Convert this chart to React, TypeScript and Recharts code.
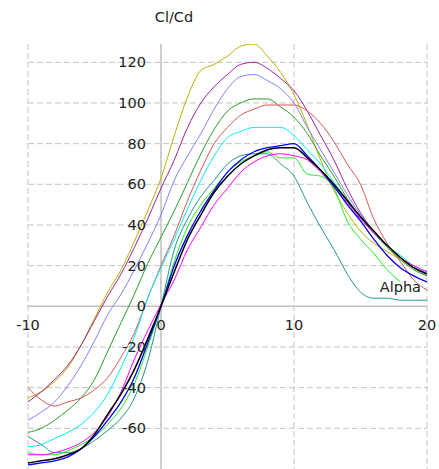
import { LineChart, Line, XAxis, YAxis, CartesianGrid, ReferenceLine, ReferenceDot } from 'recharts';

// Cl/Cd against angle of attack, one curve per airfoil run
const alpha = [-10, -9, -8, -7, -6, -5, -4, -3, -2, -1, 0, 1, 2, 3, 4, 5, 6, 7, 8, 9, 10, 11, 12, 13, 14, 15, 16, 17, 18, 19, 20];

const olive = [-45, -42, -37, -30, -19, -6, 7, 18, 32, 47, 63, 84, 103, 116, 119, 123, 128, 129, 123, 115, 104, 89, 72, 57, 46, 37, 31, 27, 23, 19, 16];
const purple = [-47, -42, -36, -29, -19, -7, 5, 16, 29, 43, 58, 72, 88, 100, 108, 114, 119, 120, 117, 112, 106, 96, 84, 72, 58, 46, 37, 30, 24, 19, 16];
const lavender = [-56, -52, -47, -39, -29, -17, -4, 6, 18, 31, 45, 62, 74, 85, 97, 107, 113, 114, 111, 107, 100, 88, 77, 66, 55, 45, 37, 30, 24, 19, 15];
const green = [-62, -60, -56, -51, -45, -36, -22, -8, 6, 21, 34, 47, 61, 75, 87, 96, 100, 102, 102, 98, 93, 85, 74, 64, 53, 44, 36, 29, 23, 18, 15];
const red = [-40, -46, -49, -47, -45, -41, -35, -25, -13, 4, 20, 35, 52, 67, 80, 88, 94, 97, 99, 99, 99, 96, 90, 81, 70, 60, 43, 31, 22, 13, 8];
const cyan = [-69, -68, -65, -62, -58, -52, -43, -30, -15, 4, 19, 33, 48, 62, 74, 83, 86, 88, 88, 88, 84, 77, 70, 61, 52, 44, 37, 30, 25, 20, 17];
const teal = [-64, -68, -72, -72, -70, -66, -61, -55, -45, -27, 0, 28, 43, 54, 62, 70, 74, 75, 75, 70, 64, 51, 39, 28, 16, 7, 4, 4, 3, 3, 3];
const lime = [-72, -73, -73, -71, -68, -64, -58, -50, -38, -20, 0, 22, 39, 50, 58, 66, 71, 74, 76, 73, 73, 65, 64, 58, 42, 33, 26, 18, 12, null, null];
const magenta = [-73, -73, -72, -70, -67, -62, -54, -42, -26, -12, 1, 13, 28, 39, 50, 58, 66, 71, 74, 75, 74, 72, 66, 59, 51, 43, 36, 30, 24, 20, 17];
const blue = [-78, -77, -76, -74, -70, -64, -56, -47, -35, -18, 0, 20, 35, 47, 57, 66, 72, 76, 78, 79, 80, 74, 67, 59, 50, 42, 33, 25, 19, 15, 12];
const black = [-77, -76, -75, -73, -70, -63, -53, -43, -31, -16, 0, 17, 33, 45, 56, 64, 70, 74, 77, 78, 78, 73, 67, 60, 52, 44, 37, 30, 24, 19, 16];

const xTicks = [-10, 0, 10, 20];
const yTicks = [-60, -40, -20, 0, 20, 40, 60, 80, 100, 120];

const series = [
  { key: 'olive', values: olive, color: '#b8b000', width: 1 },
  { key: 'purple', values: purple, color: '#a0209f', width: 1 },
  { key: 'lavender', values: lavender, color: '#8080ff', width: 1 },
  { key: 'green', values: green, color: '#28a028', width: 1 },
  { key: 'red', values: red, color: '#d85555', width: 1 },
  { key: 'cyan', values: cyan, color: '#00f0f0', width: 1 },
  { key: 'teal', values: teal, color: '#209595', width: 1 },
  { key: 'lime', values: lime, color: '#20f020', width: 1 },
  { key: 'magenta', values: magenta, color: '#ff00ff', width: 1 },
  { key: 'blue', values: blue, color: '#0000ff', width: 1.3 },
  { key: 'black', values: black, color: '#000000', width: 1.5 },
];

const data = alpha.map((a, i) => {
  const row: Record<string, number | null> = { alpha: a };
  series.forEach(s => { row[s.key] = s.values[i]; });
  return row;
});

const font = { fontFamily: 'DejaVu Sans', fontSize: 14.5, fill: '#222' };

// text placed relative to a reference point
const textAt = (text: string, dx: number, dy: number, anchor: string) => (props: any) => {
  const { x, y } = props.viewBox;
  return (
    <text x={x + dx} y={y + dy} textAnchor={anchor} dominantBaseline="central" {...font}>
      {text}
    </text>
  );
};

export default function App() {
  return (
    <div style={{ position: 'absolute', left: 0, top: 0, width: 439, height: 469, background: '#fff' }}>
      <LineChart width={439} height={469} data={data} margin={{ top: 44, right: 12, left: 28, bottom: 0 }}>
        <XAxis dataKey="alpha" type="number" domain={[-10, 20]} ticks={xTicks} allowDataOverflow hide />
        <YAxis type="number" domain={[-80, 129]} ticks={yTicks} allowDataOverflow hide />
        <CartesianGrid stroke="#c4c4c4" strokeDasharray="6 3" syncWithTicks />
        <ReferenceLine x={0} stroke="#c4c4c4" strokeWidth={1.5} />
        <ReferenceLine y={0} stroke="#c4c4c4" strokeWidth={1.5} />
        {series.map(s => (
          <Line
            key={s.key}
            dataKey={s.key}
            stroke={s.color}
            strokeWidth={s.width}
            dot={false}
            type="monotone"
            connectNulls={false}
            isAnimationActive={false}
          />
        ))}
        {xTicks.map(t => (
          <ReferenceDot key={'x' + t} x={t} y={0} r={0} ifOverflow="visible" label={textAt(String(t), 0, 19, 'middle')} />
        ))}
        {yTicks.filter(t => t !== 0).map(t => (
          <ReferenceDot key={'y' + t} x={0} y={t} r={0} ifOverflow="visible" label={textAt(String(t), -15, 0, 'end')} />
        ))}
        <ReferenceDot x={0} y={0} r={0} ifOverflow="visible" label={textAt('0', -15, 0, 'end')} />
        <ReferenceDot x={0} y={129} r={0} ifOverflow="visible" label={textAt('Cl/Cd', 13, -27, 'middle')} />
        <ReferenceDot x={20} y={0} r={0} ifOverflow="visible" label={textAt('Alpha', -6, -19, 'end')} />
      </LineChart>
    </div>
  );
}
